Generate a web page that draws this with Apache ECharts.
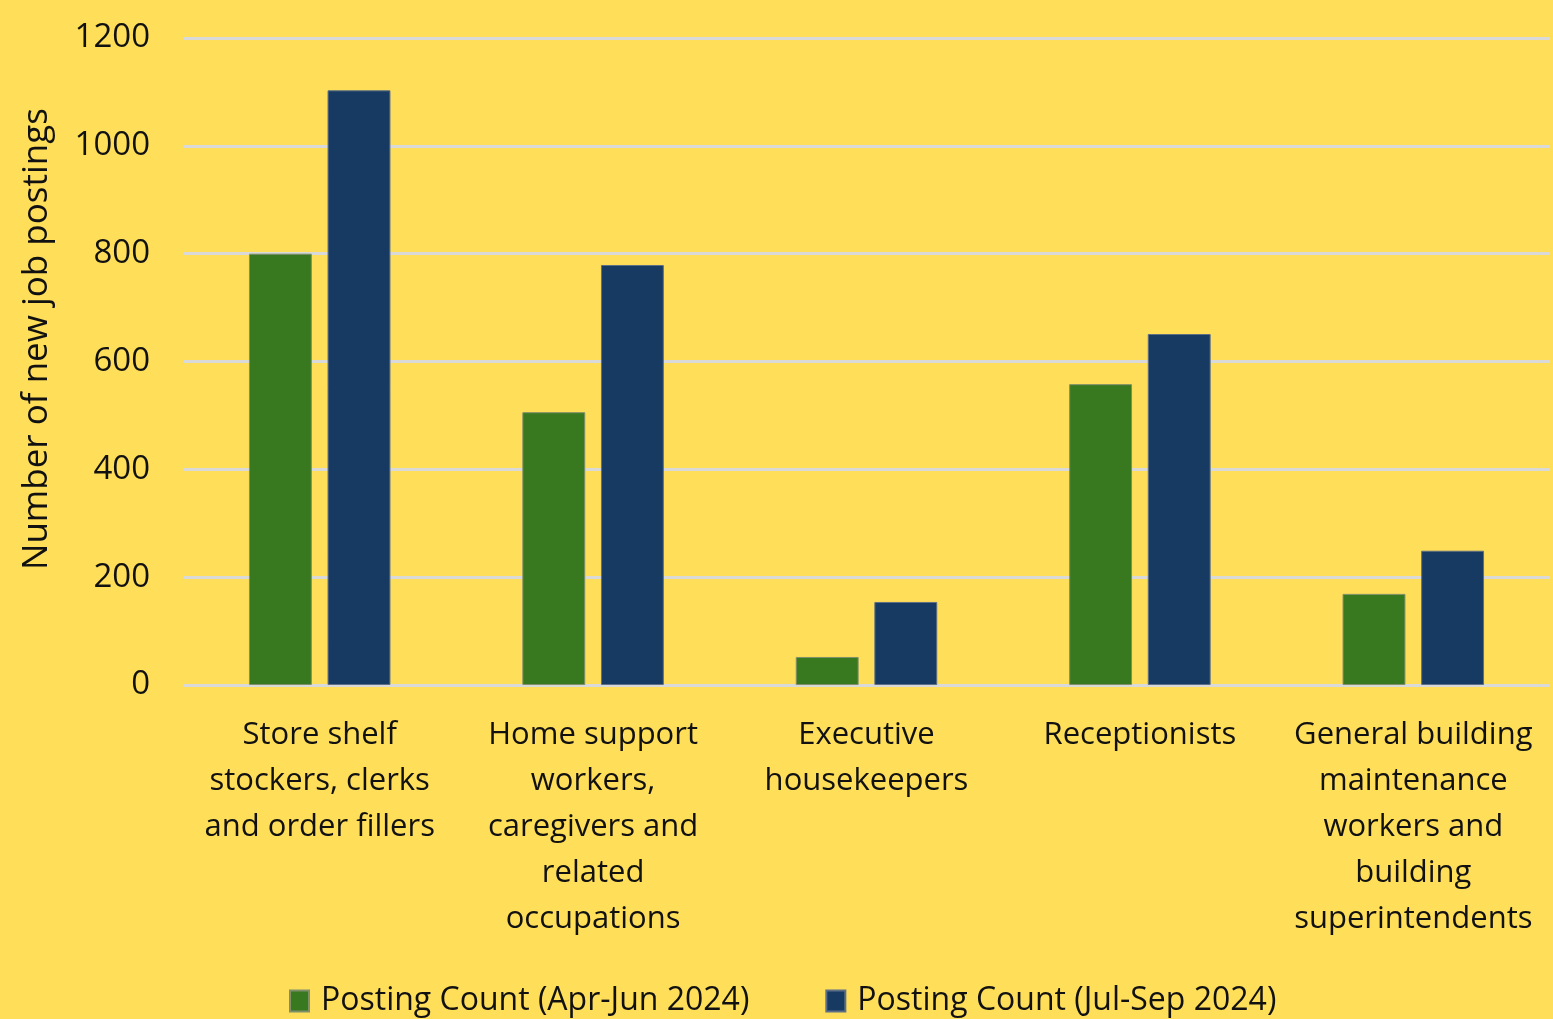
<!DOCTYPE html>
<html>
<head>
<meta charset="utf-8">
<script src="https://cdn.jsdelivr.net/npm/echarts@6/dist/echarts.min.js"></script>
<style>
  html, body { margin: 0; padding: 0; background: #FFDE59; }
  #main { width: 1553px; height: 1019px; }
</style>
</head>
<body>
<div id="main"></div>
<script>
var categories = [
    'Store shelf\nstockers, clerks\nand order fillers',
    'Home support\nworkers,\ncaregivers and\nrelated\noccupations',
    'Executive\nhousekeepers',
    'Receptionists',
    'General building\nmaintenance\nworkers and\nbuilding\nsuperintendents'
];
var aprJun = [800, 506, 52, 558, 169];
var julSep = [1103, 779, 154, 651, 249];
var yTicks = [0, 200, 400, 600, 800, 1000, 1200];

var myChart = echarts.init(document.getElementById('main'));
var fontFam = '"Open Sans", Lato, sans-serif';

var option = {
    backgroundColor: '#FFDE59',
    textStyle: { fontFamily: fontFam },
    grid: { left: 183, right: 3, top: 38, bottom: 334 },
    legend: {
        bottom: -3,
        left: 284,
        itemWidth: 19,
        itemHeight: 21,
        itemGap: 76,
        icon: 'rect',
        textStyle: { fontSize: 32, color: '#111', fontFamily: fontFam, padding: [0, 0, 0, 7] },
        data: ['Posting Count (Apr-Jun 2024)', 'Posting Count (Jul-Sep 2024)']
    },
    xAxis: {
        type: 'category',
        data: categories,
        axisLine: { show: false },
        axisTick: { show: false },
        axisLabel: {
            interval: 0,
            margin: 27,
            fontSize: 31,
            lineHeight: 46,
            color: '#111',
            align: 'center'
        }
    },
    yAxis: {
        type: 'value',
        min: 0,
        max: 1200,
        interval: 200,
        name: 'Number of new job postings',
        nameLocation: 'middle',
        nameGap: 128,
        nameTextStyle: { fontSize: 35, color: '#111', padding: [0, 0, 0, 45] },
        axisLabel: {
            margin: 33,
            fontSize: 33,
            color: '#111',
            formatter: function (v) { return yTicks.indexOf(v) >= 0 ? String(v) : ''; }
        },
        splitLine: { lineStyle: { color: '#D9D9D9', width: 3 } },
        axisLine: { show: false },
        axisTick: { show: false }
    },
    series: [
        {
            name: 'Posting Count (Apr-Jun 2024)',
            type: 'bar',
            data: aprJun,
            barWidth: '23%',
            barGap: '25%',
            itemStyle: { color: '#38791F', borderColor: '#7F8F6A', borderWidth: 1 }
        },
        {
            name: 'Posting Count (Jul-Sep 2024)',
            type: 'bar',
            data: julSep,
            barWidth: '23%',
            itemStyle: { color: '#173A63', borderColor: '#5D6F86', borderWidth: 1 }
        }
    ]
};
myChart.setOption(option);
</script>
</body>
</html>
